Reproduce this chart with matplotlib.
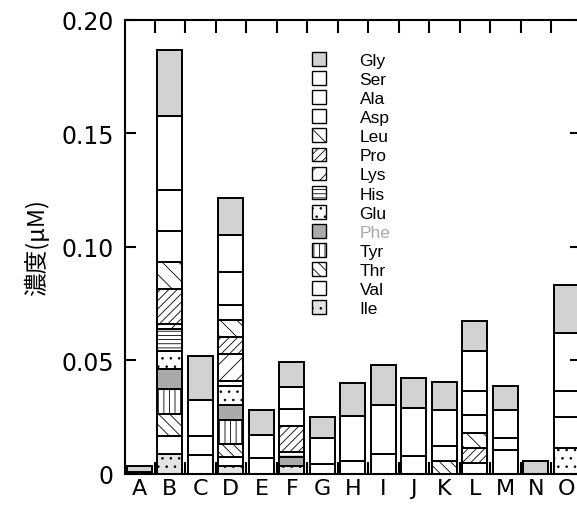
import numpy as np
import matplotlib
matplotlib.use('Agg')
from matplotlib import pyplot as plt
from matplotlib.patches import Patch

plt.rcParams['font.family'] = ['DejaVu Sans']
plt.rcParams['hatch.linewidth'] = 0.6
plt.rcParams['hatch.color'] = '#666666'

#==============================================================================
# Datos (uM), muestras A-O
#==============================================================================
muestras = list('ABCDEFGHIJKLMNO')
yticks = [0, 0.05, 0.10, 0.15, 0.20]
ylabels = ['0', '0.05', '0.10', '0.15', '0.20']

Ile = [.0008, .0088, 0, .0037, 0, .0035, 0, 0, 0, 0, 0, 0, 0, 0, 0]
Val = [0, .0079, .0083, .0037, .007, 0, .0044, .0057, .0088, .0079, 0, .0048, .0105, 0, 0]
Thr = [0, .0096, 0, .006, 0, 0, 0, 0, 0, 0, .0057, 0, 0, 0, 0]
Tyr = [0, .011, 0, .0104, 0, 0, 0, 0, 0, 0, 0, 0, 0, 0, 0]
Phe = [0, .0088, 0, .0067, 0, .004, 0, 0, 0, 0, 0, 0, 0, 0, 0]
Glu = [0, .0079, 0, .0082, 0, 0, 0, 0, 0, 0, 0, 0, 0, 0, .0114]
His = [0, .010, 0, .0022, 0, .002, 0, 0, 0, 0, 0, 0, 0, 0, 0]
Lys = [0, .002, 0, .012, 0, 0, 0, 0, 0, 0, 0, 0, 0, 0, 0]
Pro = [0, .0154, 0, .0075, 0, .0115, 0, 0, 0, 0, 0, .0066, 0, 0, 0]
Leu = [0, .0118, 0, .0075, 0, 0, 0, 0, 0, 0, 0, .0066, 0, 0, 0]
Asp = [0, .014, 0, .0067, 0, 0, 0, 0, 0, 0, .0066, .0079, 0, 0, .0136]
Ala = [0, .018, .0084, .0142, 0, .0075, 0, 0, 0, 0, 0, .0105, .0053, 0, .0114]
Ser = [0, .0325, .0158, .0164, .0101, .0097, .0114, .020, .0217, .0212, .0157, .0176, .0122, 0, .0259]
Gly = [.0025, .029, .0193, .0164, .0109, .011, .0093, .0145, .0175, .0134, .0124, .0135, .0106, .0055, .021]

# de abajo hacia arriba en cada barra
series = [('Ile', Ile), ('Val', Val), ('Thr', Thr), ('Tyr', Tyr), ('Phe', Phe),
          ('Glu', Glu), ('His', His), ('Lys', Lys), ('Pro', Pro), ('Leu', Leu),
          ('Asp', Asp), ('Ala', Ala), ('Ser', Ser), ('Gly', Gly)]

# relleno y trama de cada aminoacido
estilo = {'Gly': ('#d2d2d2', ''), 'Ser': ('white', ''), 'Ala': ('white', ''),
          'Asp': ('white', ''), 'Leu': ('white', '\\\\'), 'Pro': ('white', '////'),
          'Lys': ('white', '//'), 'His': ('white', '----'), 'Glu': ('white', '..'),
          'Phe': ('#aaaaaa', ''), 'Tyr': ('white', '|||'), 'Thr': ('white', '\\\\\\'),
          'Val': ('white', ''), 'Ile': ('#e4e4e4', '..')}

#==============================================================================
# Grafico
#==============================================================================
fig = plt.figure(figsize=(5.77, 5.06), dpi=100)
ax = fig.add_axes([0.2166, 0.0613, 0.790, 0.8972])

x = np.arange(len(muestras))
base = np.zeros(len(muestras))
for nombre, v in series:
    v = np.array(v)
    m = v > 0
    fc, ht = estilo[nombre]
    ax.bar(x[m], v[m], bottom=base[m], width=0.82, color=fc, hatch=ht,
           edgecolor='black', linewidth=1.4)
    base = base + v

ax.set_xlim(-0.475, 14.475)
ax.set_ylim(0, 0.20)
ax.set_xticks(x)
ax.set_xticklabels(muestras, fontsize=16)
ax.set_xticks(np.arange(0.5, 14, 1), minor=True)
ax.tick_params(axis='x', which='major', length=0, pad=3)
ax.tick_params(axis='x', which='minor', direction='in', top=True, bottom=True,
               length=9, width=1.5)
ax.set_yticks(yticks)
ax.set_yticklabels(ylabels, fontsize=17)
ax.tick_params(axis='y', direction='in', right=True, length=8, width=1.5, pad=8)
for s in ax.spines.values():
    s.set_linewidth(1.5)
ax.set_ylabel('濃度(μM)', fontsize=17, family=['Noto Sans CJK JP', 'DejaVu Sans'],
              labelpad=9)

# leyenda, Gly arriba
handles = [Patch(facecolor=estilo[n][0], hatch=estilo[n][1], edgecolor='black',
                 linewidth=1.0) for n, v in series[::-1]]
etiquetas = [n for n, v in series[::-1]]
leg = ax.legend(handles, etiquetas, loc='upper left', bbox_to_anchor=(0.526, 0.912),
                bbox_transform=fig.transFigure, frameon=False,
                prop={'family': ['Liberation Sans Narrow', 'Liberation Sans'], 'size': 12.5},
                handlelength=0.78, handleheight=0.85, handletextpad=1.95,
                labelspacing=0.18, borderpad=0)
for t in leg.get_texts():
    if t.get_text() == 'Phe':
        t.set_color('#aaaaaa')

plt.savefig('out.png', dpi=100)
plt.close()
